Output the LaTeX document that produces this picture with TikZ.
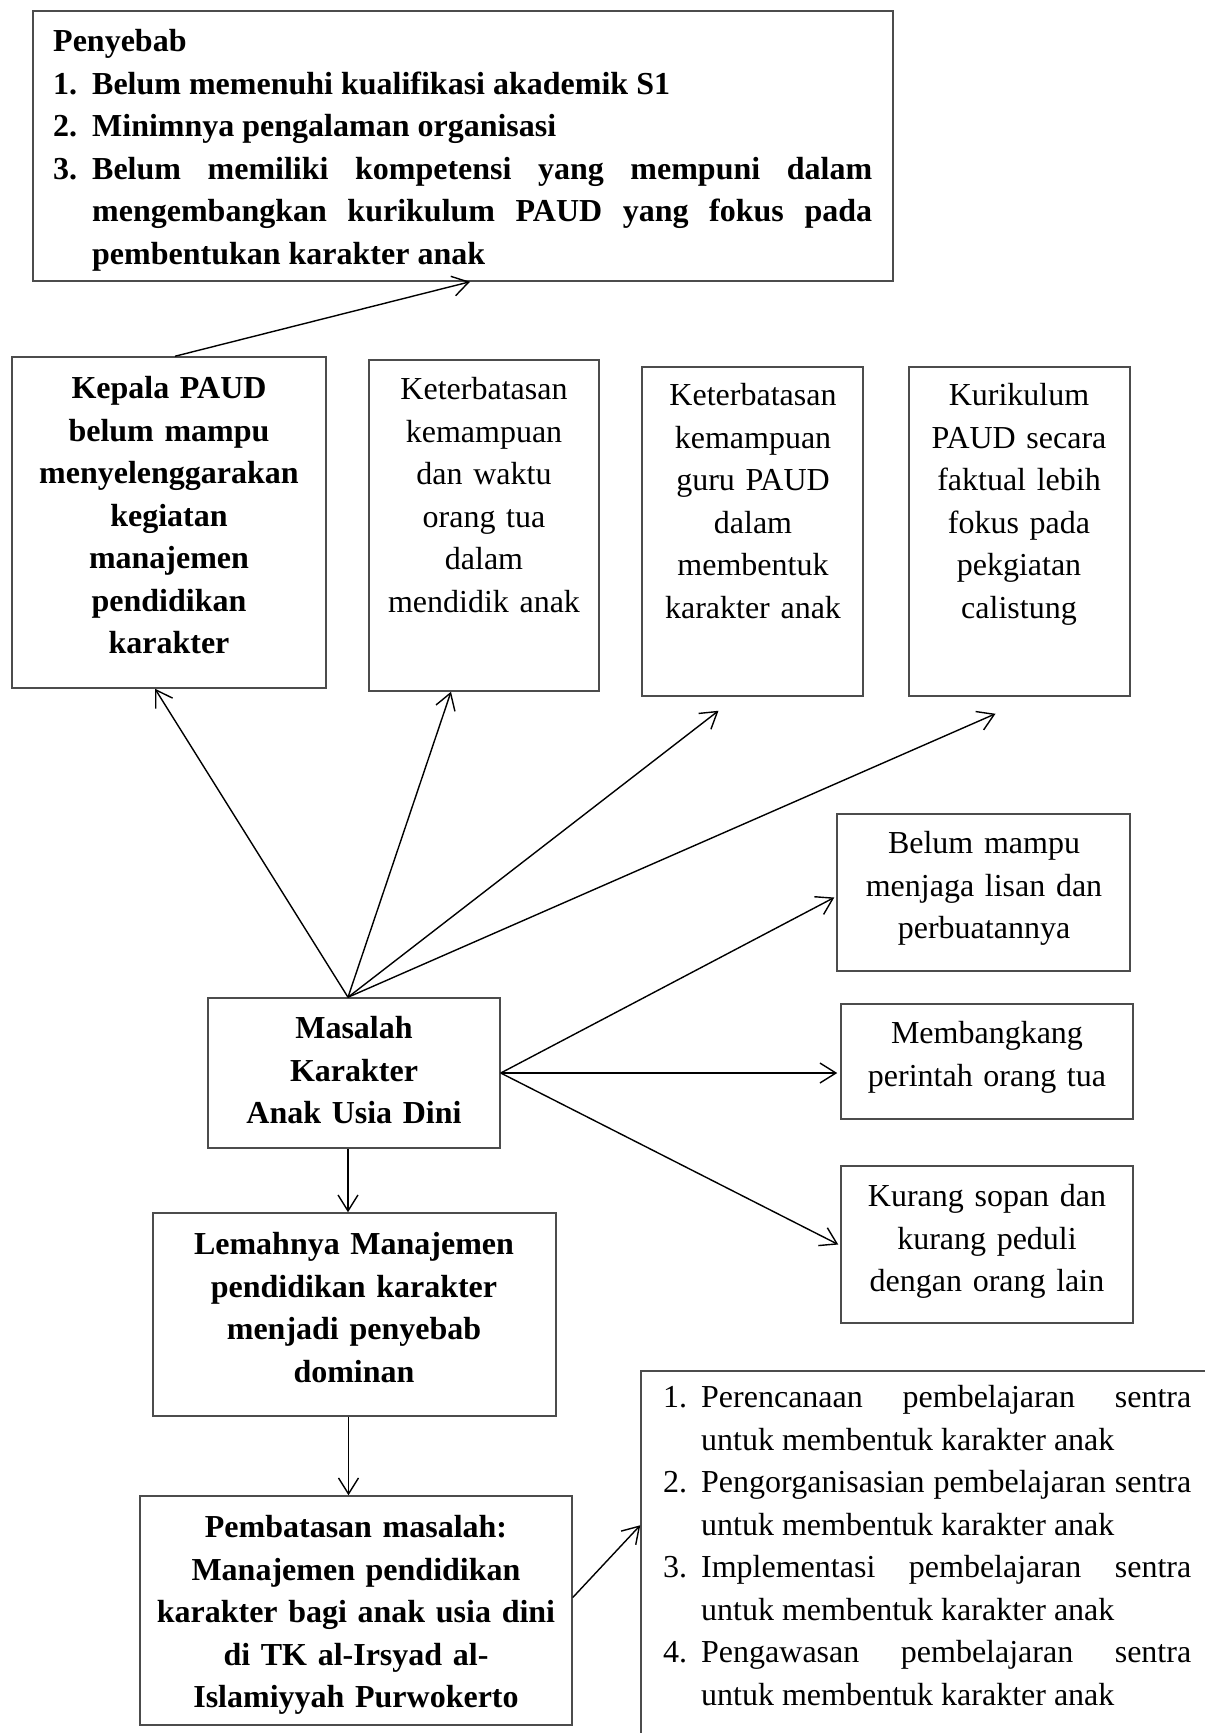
\documentclass[tikz,border=0pt]{standalone}
\usepackage{fontspec}
\setmainfont{Liberation Serif}
\usetikzlibrary{arrows.meta,calc}
\hyphenpenalty=10000
\exhyphenpenalty=10000
\tolerance=9999
\begin{document}
\begin{tikzpicture}[x=1pt,y=-1pt,
  box/.style={draw=black!70, line width=1.5pt, inner sep=0pt, rectangle},
  txt/.style={font=\fontsize{32}{42.5}\selectfont, inner sep=0pt, align=center, anchor=base},
  btxt/.style={txt, font=\fontsize{32}{42.5}\selectfont\bfseries},
  arr/.style={line width=1.4pt, draw=black, -{Straight Barb[length=16pt,width=20pt,line width=1.4pt]}}
]
\useasboundingbox (0,0) rectangle (1205,1733);
\fill[white] (0,0) rectangle (1205,1733);

% boxes
\node[box, minimum width=860pt, minimum height=270pt] (penyebab) at (463,146) {};
\node[box, minimum width=314pt, minimum height=331pt] (kepala) at (169,522.5) {};
\node[box, minimum width=230pt, minimum height=331pt] (ket1) at (484,525.5) {};
\node[box, minimum width=221pt, minimum height=329pt] (ket2) at (752.5,531.5) {};
\node[box, minimum width=221pt, minimum height=329pt] (kur) at (1019.5,531.5) {};
\node[box, minimum width=292pt, minimum height=150pt] (masalah) at (354,1073) {};
\node[box, minimum width=293pt, minimum height=157pt] (belum) at (983.5,892.5) {};
\node[box, minimum width=292pt, minimum height=115pt] (memb) at (987,1061.5) {};
\node[box, minimum width=292pt, minimum height=157pt] (kurang) at (987,1244.5) {};
\node[box, minimum width=403pt, minimum height=203pt] (lemah) at (354.5,1314.5) {};
\node[box, minimum width=432pt, minimum height=229pt] (pemb) at (356,1610.5) {};
\node[box, minimum width=599pt, minimum height=389pt] (list) at (940.5,1565.5) {};

% texts
\node[btxt, anchor=base west, align=justify, text width=819pt] (tpenyebab) at (53,51.5) {%
Penyebab\par
\hangindent=39pt\hangafter=1\makebox[39pt][l]{1.}Belum memenuhi kualifikasi akademik S1\par
\hangindent=39pt\hangafter=1\makebox[39pt][l]{2.}Minimnya pengalaman organisasi\par
\hangindent=39pt\hangafter=1\makebox[39pt][l]{3.}Belum memiliki kompetensi yang mempuni dalam mengembangkan kurikulum PAUD yang fokus pada pembentukan karakter anak\par};

\node[btxt, text width=305pt] (tkepala) at (169,398.5) {Kepala PAUD\\belum mampu\\menyelenggarakan\\kegiatan\\manajemen\\pendidikan\\karakter};
\node[txt, text width=225pt] (tket1) at (484,399.5) {Keterbatasan\\kemampuan\\dan waktu\\orang tua\\dalam\\mendidik anak};
\node[txt, text width=215pt] (tket2) at (753,405.5) {Keterbatasan\\kemampuan\\guru PAUD\\dalam\\membentuk\\karakter anak};
\node[txt, text width=215pt] (tkur) at (1019,405.5) {Kurikulum\\PAUD secara\\faktual lebih\\fokus pada\\pekgiatan\\calistung};
\node[btxt, text width=285pt] (tmasalah) at (354,1038.5) {Masalah\\Karakter\\Anak Usia Dini};
\node[txt, text width=285pt] (tbelum) at (984,853.5) {Belum mampu\\menjaga lisan dan\\perbuatannya};
\node[txt, text width=285pt] (tmemb) at (987,1043.5) {Membangkang\\perintah orang tua};
\node[txt, text width=285pt] (tkurang) at (987,1206.5) {Kurang sopan dan\\kurang peduli\\dengan orang lain};
\node[btxt, text width=395pt] (tlemah) at (354,1254.5) {Lemahnya Manajemen\\pendidikan karakter\\menjadi penyebab\\dominan};
\node[btxt, text width=425pt] (tpemb) at (356,1537.5) {Pembatasan masalah:\\Manajemen pendidikan\\karakter bagi anak usia dini\\di TK al-Irsyad al-\\Islamiyyah Purwokerto};
\node[txt, anchor=base west, align=justify, text width=528pt] (tlist) at (663,1407.5) {%
\hangindent=38pt\hangafter=1\makebox[38pt][l]{1.}Perencanaan pembelajaran sentra untuk membentuk karakter anak\par
\hangindent=38pt\hangafter=1\makebox[38pt][l]{2.}Pengorganisasian pembelajaran sentra untuk membentuk karakter anak\par
\hangindent=38pt\hangafter=1\makebox[38pt][l]{3.}Implementasi pembelajaran sentra untuk membentuk karakter anak\par
\hangindent=38pt\hangafter=1\makebox[38pt][l]{4.}Pengawasan pembelajaran sentra untuk membentuk karakter anak\par};

% connectors
\draw[arr] ([xshift=6pt]kepala.north) -- ([xshift=7pt]penyebab.south);
\coordinate (src) at ([xshift=-6pt]masalah.north);
\draw[arr] (src) -- ([xshift=-14pt]kepala.south);
\draw[arr] (src) -- ([xshift=-33pt]ket1.south);
\draw[arr] (src) -- ([xshift=-34pt,yshift=-14pt]ket2.south);
\draw[arr] (src) -- ([xshift=-24pt,yshift=-17pt]kur.south);
\draw[arr] (masalah.east) -- ([xshift=-2pt,yshift=-5pt]belum.west);
\draw[arr] (masalah.east) -- ([xshift=-3pt]masalah.east -| memb.west);
\draw[arr] (masalah.east) -- ([xshift=-2pt]kurang.west);
\draw[arr] ([xshift=-6pt]masalah.south) -- ([xshift=-6pt]masalah.south |- lemah.north);
\draw[arr] ([xshift=-6pt]lemah.south) -- ([xshift=-6pt]lemah.south |- pemb.north);
\draw[arr] ([yshift=13pt]pemb.east) -- ([yshift=-155pt]list.north west);
\end{tikzpicture}
\end{document}
